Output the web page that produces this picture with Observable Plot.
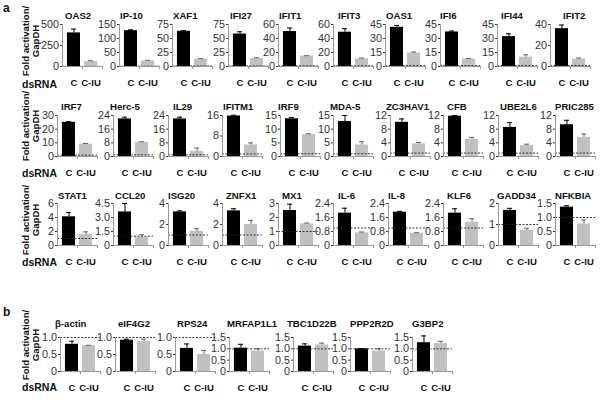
<!DOCTYPE html>
<html><head><meta charset="utf-8">
<script src="https://cdn.jsdelivr.net/npm/d3@7"></script>
<script src="https://cdn.jsdelivr.net/npm/@observablehq/plot@0.6"></script>
<style>
body{margin:0;background:#fff;}
#chart{position:relative;width:600px;height:403px;overflow:hidden;font-family:"Liberation Sans",Arial,sans-serif;color:#111;background:#fff;}
.abs{position:absolute;white-space:nowrap;}
.title{font-weight:bold;font-size:9.6px;line-height:10px;}
.ylab{font-weight:bold;font-size:9.6px;line-height:10px;text-align:center;transform:translate(-50%,-50%) rotate(-90deg);}
.ds{font-weight:bold;font-size:10.5px;line-height:12px;}
.letter{font-weight:bold;font-size:12px;line-height:12px;}
</style></head><body><div id="chart"></div>
<script>
// ---------- data ----------
const categories = ["C", "C-IU"];

const genesR1 = ["OAS2","IP-10","XAF1","IFI27","IFIT1","IFIT3","OAS1","IFI6","IFI44","IFIT2"];
const cR1     = [400, 128, 63, 58, 50, 49, 42, 37, 32, 36];
const cErrR1  = [45, 3, 1, 4, 5, 5, 2, 1, 3, 3.5];
const iuR1    = [60, 20, 13, 14, 15, 11, 14.5, 8, 10, 7];
const iuErrR1 = [8, 2, 1, 1.5, 0.5, 1, 1, 0.5, 2.5, 1];
const ticksR1 = [[0,250,500],[0,50,100,150],[0,25,50,75],[0,25,50,75],[0,20,40,60],[0,20,40,60],[0,15,30,45],[0,15,30,45],[0,15,30,45],[0,20,40]];

const genesR2 = ["IRF7","Herc-5","IL29","IFITM1","IRF9","MDA-5","ZC3HAV1","CFB","UBE2L6","PRIC285"];
const cR2     = [25, 22, 22, 15.8, 13.8, 12.8, 10, 11.8, 8.5, 9.3];
const cErrR2  = [0.5, 1, 1, 0.3, 0.5, 2.2, 1, 0.2, 1.4, 1.3];
const iuR2    = [9, 8.3, 3, 4.5, 8, 4.2, 3.7, 5, 3.2, 5.6];
const iuErrR2 = [0.5, 0.3, 2, 0.8, 0.3, 1.2, 0.4, 0.6, 0.4, 1];
const ticksR2 = [[0,10,20,30],[0,8,16,24],[0,8,16,24],[0,8,16],[0,5,10,15],[0,5,10,15],[0,4,8,12],[0,4,8,12],[0,4,8,12],[0,4,8,12]];

const genesR3 = ["STAT1","CCL20","ISG20","ZNFX1","MX1","IL-6","IL-8","KLF6","GADD34","NFKBIA"];
const cR3     = [4.1, 3.6, 3.2, 3.3, 2.5, 1.85, 1.9, 1.85, 1.67, 1.37];
const cErrR3  = [0.6, 0.9, 0.1, 0.2, 0.45, 0.28, 0.05, 0.25, 0.1, 0.05];
const iuR3    = [1.6, 0.9, 1.35, 2, 1.55, 0.72, 0.7, 1.33, 0.72, 0.77];
const iuErrR3 = [0.35, 0.25, 0.25, 0.4, 0.05, 0.05, 0.03, 0.2, 0.1, 0.14];
const ticksR3 = [[0,2,4,6],[0,1.5,3,4.5],[0,2,4],[0,2,4],[0,1,2,3],[0,0.8,1.6,2.4],[0,0.8,1.6,2.4],[0,0.8,1.6,2.4],[0,1,2],[0,0.5,1,1.5]];

const genesB  = ["β-actin","eIF4G2","RPS24","MRFAP1L1","TBC1D22B","PPP2R2D","G3BP2"];
const cB      = [0.8, 0.92, 0.68, 1.03, 1.12, 1.0, 1.27];
const cErrB   = [0.09, 0.03, 0.13, 0.17, 0.1, 0.01, 0.3];
const iuB     = [0.76, 0.88, 0.5, 0.9, 1.17, 0.9, 1.23];
const iuErrB  = [0.01, 0.07, 0.12, 0.1, 0.08, 0.1, 0.1];
const ticksB  = [[0,0.5,1],[0,0.5,1],[0,0.5,1],[0,0.5,1,1.5],[0,0.5,1,1.5],[0,0.5,1,1.5],[0,0.5,1,1.5]];

const baseline = 1; // dashed reference level

// ---------- layout ----------
const rows = [
  {genes: genesR1, c: cR1, ce: cErrR1, iu: iuR1, ie: iuErrR1, ticks: ticksR1,
   x0: [62,119,172,228,278,333,385,440,497,550], tx: [65,120,173,230,279,338,386,440,501,563],
   yTop: 24, y0: 66, titleY: 16, labY: 41, dsY: 83.5, letter: "a", letterY: 2},
  {genes: genesR2, c: cR2, ce: cErrR2, iu: iuR2, ie: iuErrR2, ticks: ticksR2,
   x0: [57,113,168,222,280,333,390,443,498,555], tx: [61,110,173,223,278,330,386,447,500,555],
   yTop: 115, y0: 156, titleY: 106.5, labY: 126, dsY: 172.5},
  {genes: genesR3, c: cR3, ce: cErrR3, iu: iuR3, ie: iuErrR3, ticks: ticksR3,
   x0: [57,113,168,222,278,333,388,443,498,555], tx: [58,115,168,226,282,338,388,447,497,555],
   yTop: 203, y0: 245, titleY: 195.5, labY: 220, dsY: 262},
  {genes: genesB, c: cB, ce: cErrB, iu: iuB, ie: iuErrB, ticks: ticksB,
   x0: [60,115,175,229,293,350,412], tx: [55,118,177,227,287,350,412],
   yTop: 337, y0: 371, titleY: 323.5, labY: 345, dsY: 386.5, letter: "b", letterY: 306}
];

const chart = document.getElementById("chart");
const font = "Liberation Sans, Arial, sans-serif";

function addDiv(cls, html, left, top) {
  const d = document.createElement("div");
  d.className = "abs " + cls;
  d.innerHTML = html;
  d.style.left = left + "px";
  d.style.top = top + "px";
  chart.appendChild(d);
  return d;
}

function panel(cv, ce, iv, ie, ticks, x0, yTop, y0) {
  const ML = 26, MR = 6, MT = 4, MB = 24, W = 40;
  const H = y0 - yTop;
  const data = [{cat: categories[0], v: cv, e: ce}, {cat: categories[1], v: iv, e: ie}];
  const dC = data.filter(d => d.cat === categories[0]);
  const dI = data.filter(d => d.cat === categories[1]);
  const max = ticks[ticks.length - 1];
  const dec = ticks.some(t => t % 1 !== 0);
  const fmt = d => d === 0 ? "0" : (dec ? d.toFixed(1) : String(d));
  const svg = Plot.plot({
    width: ML + W + MR, height: MT + H + MB,
    marginLeft: ML, marginRight: MR, marginTop: MT, marginBottom: MB,
    style: {background: "transparent", overflow: "visible", fontFamily: font},
    x: {type: "band", domain: categories, paddingInner: 0.235, paddingOuter: 0.29, axis: null, round: false},
    y: {domain: [0, max], axis: null},
    marks: [
      Plot.barY(dC, {x: "cat", y: "v", fill: "#000"}),
      Plot.barY(dI, {x: "cat", y: "v", fill: "#c0c0c0"}),
      Plot.ruleX(dC, {x: "cat", y1: "v", y2: d => d.v + d.e, stroke: "#000", strokeWidth: 1}),
      Plot.tickY(dC, {x: "cat", y: d => d.v + d.e, stroke: "#000", insetLeft: 4, insetRight: 4}),
      Plot.ruleX(dI, {x: "cat", y1: "v", y2: d => d.v + d.e, stroke: "#666", strokeWidth: 1}),
      Plot.tickY(dI, {x: "cat", y: d => d.v + d.e, stroke: "#666", insetLeft: 4, insetRight: 4}),
      Plot.ruleY([baseline], {stroke: "#222", strokeDasharray: "2,1.5", strokeWidth: 0.9}),
      Plot.frame({anchor: "left", stroke: "#999"}),
      Plot.ruleY([0], {stroke: "#999"}),
      Plot.ruleX([categories[0]], {y1: 0, y2: 0, insetBottom: -3, dx: 8.5, stroke: "#999"}),
      Plot.ruleX([categories[1]], {y1: 0, y2: 0, insetBottom: -3, dx: 11.5, stroke: "#999"}),
      Plot.axisY({ticks, tickSize: 2, tickPadding: 1.5, tickFormat: fmt, fontSize: 10.8, label: null, color: "#333"}),
      Plot.axisX({tickSize: 0, tickPadding: 13, fontSize: 9.5, fontWeight: "bold", label: null, color: "#111"})
    ]
  });
  svg.style.position = "absolute";
  svg.style.left = (x0 - ML) + "px";
  svg.style.top = (yTop - MT) + "px";
  chart.appendChild(svg);
}

rows.forEach(r => {
  r.genes.forEach((g, i) => {
    panel(r.c[i], r.ce[i], r.iu[i], r.ie[i], r.ticks[i], r.x0[i], r.yTop, r.y0);
    addDiv("title", g, r.tx[i], r.titleY - 5);
  });
  addDiv("ylab", "Fold activation/<br>GapDH", 31, r.labY);
  addDiv("ds", "dsRNA", 22, r.dsY - 6);
  if (r.letter) addDiv("letter", r.letter, 3, r.letterY);
});
</script>
</body></html>
